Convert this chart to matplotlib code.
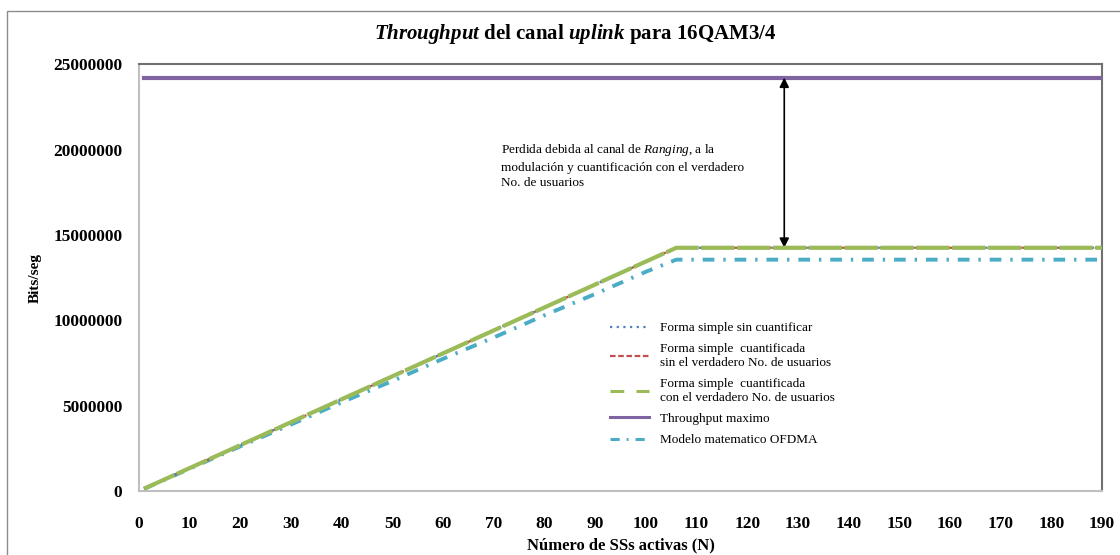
import matplotlib.pyplot as plt
from matplotlib.lines import Line2D
from matplotlib.patches import Rectangle

plt.rcParams['font.family'] = ['Liberation Serif', 'DejaVu Serif']
plt.rcParams['mathtext.fontset'] = 'custom'
plt.rcParams['mathtext.rm'] = 'Liberation Serif'
plt.rcParams['mathtext.it'] = 'Liberation Serif:italic'
plt.rcParams['mathtext.bf'] = 'Liberation Serif:bold'
plt.rcParams['mathtext.bfit'] = 'Liberation Serif:italic:bold'

# Número de SSs activas
n_ss = [1, 10, 20, 30, 40, 50, 60, 70, 80, 90, 100, 106, 110, 120, 130, 140,
        150, 160, 170, 180, 190]

# Bits/seg por cada modelo
sin_cuantificar = [134500, 1345000, 2690000, 4035000, 5380000, 6725000, 8070000,
                   9415000, 10760000, 12105000, 13450000, 14257000, 14257000,
                   14257000, 14257000, 14257000, 14257000, 14257000, 14257000,
                   14257000, 14257000]
cuant_sin_verdadero = [134500, 1345000, 2690000, 4035000, 5380000, 6725000, 8070000,
                       9415000, 10760000, 12105000, 13450000, 14257000, 14257000,
                       14257000, 14257000, 14257000, 14257000, 14257000, 14257000,
                       14257000, 14257000]
cuant_con_verdadero = [134500, 1345000, 2690000, 4035000, 5380000, 6725000, 8070000,
                       9415000, 10760000, 12105000, 13450000, 14257000, 14257000,
                       14257000, 14257000, 14257000, 14257000, 14257000, 14257000,
                       14257000, 14257000]
throughput_max = [24230000] * len(n_ss)
modelo_ofdma = [130000, 1310000, 2620000, 3900000, 5200000, 6450000, 7750000,
                9000000, 10300000, 11550000, 12850000, 13560000, 13560000,
                13560000, 13560000, 13560000, 13560000, 13560000, 13560000,
                13560000, 13560000]

azul, rojo, verde, morado, cian = '#4f81bd', '#c0504d', '#9bbb59', '#8064a2', '#4bacc6'

fig = plt.figure(figsize=(11.2, 5.55), dpi=100)
ax = fig.add_axes([0.1241, 0.1153, 0.8599, 0.7685])

# borde del área del gráfico
fig.patches.append(Rectangle((0.0063, -0.1), 1.2, 1.08, transform=fig.transFigure,
                             fill=False, edgecolor='#8c8c8c', linewidth=1.0))

ax.plot(n_ss, sin_cuantificar, color=azul, linestyle=(0, (1, 2)), linewidth=1.6, zorder=4)
ax.plot(n_ss, cuant_sin_verdadero, color=rojo, linestyle=(0, (2.5, 1.2)), linewidth=1.6, zorder=3)
ax.plot(n_ss, cuant_con_verdadero, color=verde, linestyle=(0, (8, 0.6)), linewidth=3, zorder=5)
ax.plot(n_ss, throughput_max, color=morado, linewidth=3, zorder=3)
ax.plot(n_ss, modelo_ofdma, color=cian, linestyle=(0, (3, 2.3, 0.6, 2.3)), linewidth=2.8, zorder=2)

ax.set_xlim(0, 190)
ax.set_ylim(0, 25000000)
ax.set_xticks(range(0, 191, 10))
ax.set_yticks(range(0, 25000001, 5000000))
ax.tick_params(length=0, labelsize=12.5)
ax.tick_params(axis='y', pad=12)
ax.tick_params(axis='x', pad=18)
for lbl in ax.get_xticklabels() + ax.get_yticklabels():
    lbl.set_fontweight('bold')
ax.ticklabel_format(style='plain', axis='y')

for s in ['left', 'bottom']:
    ax.spines[s].set_color('#bfbfbf')
    ax.spines[s].set_linewidth(1.5)
for s in ['top', 'right']:
    ax.spines[s].set_color('#707070')
    ax.spines[s].set_linewidth(1.5)

fig.text(575 / 1120, 1 - 34 / 555,
         r'$\mathbfit{Throughput}$ del canal $\mathbfit{uplink}$ para 16QAM3/4',
         fontsize=15, fontweight='bold', ha='center', va='center')
ax.set_xlabel('Número de SSs activas (N)', fontsize=12, fontweight='bold', labelpad=4)
ax.set_ylabel('Bits/seg', fontsize=11, fontweight='bold', labelpad=8)

# pérdida entre el throughput máximo y el real
ax.annotate('', xy=(127.3, 14257000), xytext=(127.3, 24230000),
            arrowprops=dict(arrowstyle='<|-|>', color='black', linewidth=1.2,
                            mutation_scale=14, shrinkA=0, shrinkB=0))
ax.text(71.5, 20450000,
        'Perdida debida al canal de $\\it{Ranging}$, a la\n'
        'modulación y cuantificación con el verdadero\n'
        'No. de usuarios',
        fontsize=9.5, va='top', ha='left', linespacing=1.4)

handles = [
    Line2D([], [], color=azul, linestyle=(0, (1, 2)), linewidth=1.6),
    Line2D([], [], color=rojo, linestyle=(0, (2.5, 1.2)), linewidth=1.6),
    Line2D([], [], color=verde, linestyle=(0, (4.5, 4)), linewidth=2.2),
    Line2D([], [], color=morado, linewidth=2.2),
    Line2D([], [], color=cian, linestyle=(0, (3, 2.3, 0.6, 2.3)), linewidth=2.2),
]
labels = [
    'Forma simple sin cuantificar',
    'Forma simple  cuantificada\nsin el verdadero No. de usuarios',
    'Forma simple  cuantificada\ncon el verdadero No. de usuarios',
    'Throughput maximo',
    'Modelo matematico OFDMA',
]
ax.legend(handles, labels, loc='upper left', bbox_to_anchor=(0.477, 0.424),
          frameon=False, fontsize=9.5, handlelength=2.9, labelspacing=0.68,
          handletextpad=0.9)

fig.savefig('out.png', dpi=100)
